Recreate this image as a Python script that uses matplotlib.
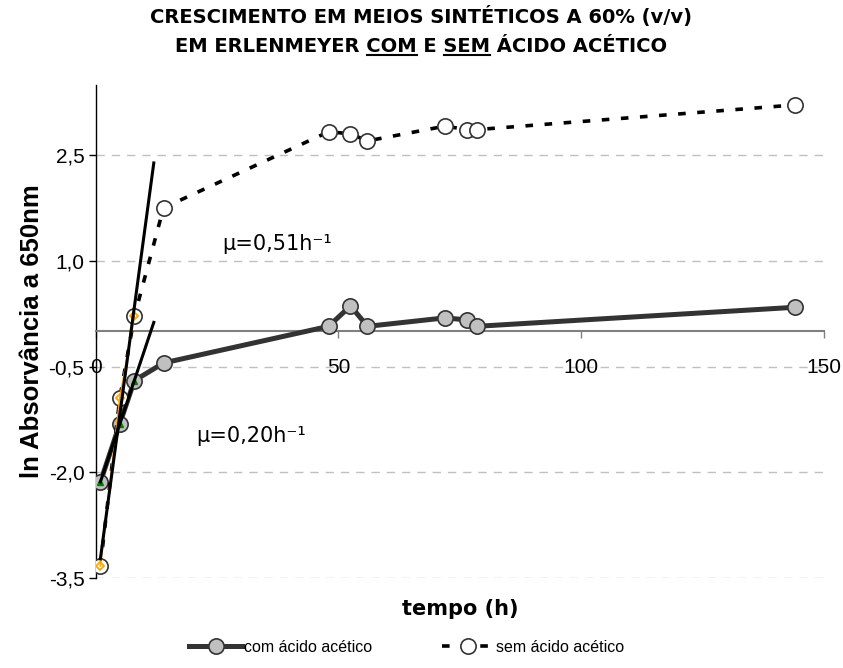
import numpy as np
import matplotlib
matplotlib.use('Agg')
from matplotlib import pyplot as plt
from matplotlib.lines import Line2D

# dados: tempo (h) e ln da absorvancia a 650nm
tempo = [1, 5, 8, 14, 48, 52.5, 56, 72, 76.5, 78.5, 144]
com_acido = [-2.14, -1.31, -0.70, -0.45, 0.07, 0.36, 0.07, 0.19, 0.16, 0.07, 0.34]
sem_acido = [-3.33, -0.95, 0.21, 1.75, 2.83, 2.80, 2.70, 2.91, 2.86, 2.86, 3.21]

y_ticks = [-3.5, -2.0, -0.5, 1.0, 2.5]
y_ticklabels = ['-3,5', '-2,0', '-0,5', '1,0', '2,5']
x_ticks = [0, 50, 100, 150]

# pontos da fase exponencial usados para as retas
n_exp = 3
trend_x = [1, 12]

fig = plt.figure(figsize=(8.43, 6.68), dpi=100)
ax = fig.add_axes([0.1133, 0.1347, 0.8642, 0.7388])

ax.set_xlim(0, 150)
ax.set_ylim(-3.5, 3.5)

# grelha
for yt in y_ticks:
    ax.axhline(yt, color='#c0c0c0', lw=1, ls=(0, (6, 5)), zorder=0)

# series
ax.plot(tempo, com_acido, color='#333333', lw=3.6, marker='o', ms=11,
        mfc='#c0c0c0', mec='#333333', mew=1.2, zorder=3, label='com ácido acético')
ax.plot(tempo, sem_acido, color='black', lw=2.6, ls=(0, (2.1, 3.2)),
        dash_capstyle='butt', marker='o', ms=11, mfc='white', mec='#333333',
        mew=1.2, zorder=4, label='sem ácido acético')

# pontos da fase exponencial
ax.plot(tempo[:n_exp], sem_acido[:n_exp], color='orange', lw=1.2, marker='D',
        ms=4.5, mfc='none', mec='orange', mew=1.3, zorder=5)
ax.plot(tempo[:n_exp], com_acido[:n_exp], color='green', lw=1.2, marker='^',
        ms=4.5, mfc='green', mec='green', zorder=5)

# retas de tendencia
xt = np.array(trend_x)
p_sem = np.polyfit(tempo[:n_exp], sem_acido[:n_exp], 1)
p_com = np.polyfit(tempo[:n_exp], com_acido[:n_exp], 1)
ax.plot(xt, np.polyval(p_sem, xt), color='black', lw=2.2, zorder=6)
ax.plot(xt, np.polyval(p_com, xt), color='black', lw=2.2, zorder=6)

ax.text(26, 1.24, 'μ=0,51h⁻¹', fontsize=15, va='center', ha='left')
ax.text(20.8, -1.48, 'μ=0,20h⁻¹', fontsize=15, va='center', ha='left')

# eixos
ax.spines['top'].set_visible(False)
ax.spines['right'].set_visible(False)
ax.spines['bottom'].set_position(('data', 0))
ax.spines['bottom'].set_color('#808080')
ax.spines['bottom'].set_linewidth(1.5)
ax.spines['left'].set_color('black')
ax.spines['left'].set_linewidth(1)

ax.set_yticks(y_ticks)
ax.set_yticklabels(y_ticklabels, fontfamily='Liberation Sans', fontsize=15)
ax.set_xticks(x_ticks)
ax.set_xticklabels([str(v) for v in x_ticks], fontfamily='Liberation Sans', fontsize=15)
ax.tick_params(axis='y', direction='out', length=5, width=1, pad=3)
ax.tick_params(axis='x', direction='out', length=5, width=1, color='#808080', pad=14)

ax.set_ylabel('ln Absorvância a 650nm', fontfamily='Liberation Sans',
              fontweight='bold', fontsize=18.5, labelpad=3)
fig.text(460 / 843, 1 - 609 / 668, 'tempo (h)', fontweight='bold', fontsize=15,
         ha='center', va='center')

# titulo
tam_titulo = 14
fig.text(0.5, 1 - 17 / 668, 'CRESCIMENTO EM MEIOS SINTÉTICOS A 60% (v/v)',
         fontweight='bold', fontsize=tam_titulo, ha='center', va='center')
t2 = 'EM ERLENMEYER COM E SEM ÁCIDO ACÉTICO'
title2 = fig.text(0.5, 1 - 46 / 668, t2, fontweight='bold', fontsize=tam_titulo,
                  ha='center', va='center')

fig.canvas.draw()
renderer = fig.canvas.get_renderer()


def largura(s):
    tmp = fig.text(0, 0, s, fontweight='bold', fontsize=tam_titulo)
    w = tmp.get_window_extent(renderer).width
    tmp.remove()
    return w


bb = title2.get_window_extent(renderer)
y_sub = bb.y0 + 1
for palavra, prefixo in [('COM', 'EM ERLENMEYER COM'), ('SEM', 'EM ERLENMEYER COM E SEM')]:
    x1 = bb.x0 + largura(prefixo)
    x0 = x1 - largura(palavra)
    fig.add_artist(Line2D([x0 / fig.bbox.width, x1 / fig.bbox.width],
                          [y_sub / fig.bbox.height, y_sub / fig.bbox.height],
                          transform=fig.transFigure, color='black', lw=1.5))

# legenda
leg = ax.legend(loc='center', bbox_to_anchor=(407 / 843, 1 - 647 / 668),
                bbox_transform=fig.transFigure, ncol=2, frameon=False,
                prop={'family': 'Liberation Sans', 'size': 11.5},
                handlelength=3.3, handletextpad=0.1, columnspacing=4.4,
                numpoints=1)

fig.savefig('out.png', dpi=100)
